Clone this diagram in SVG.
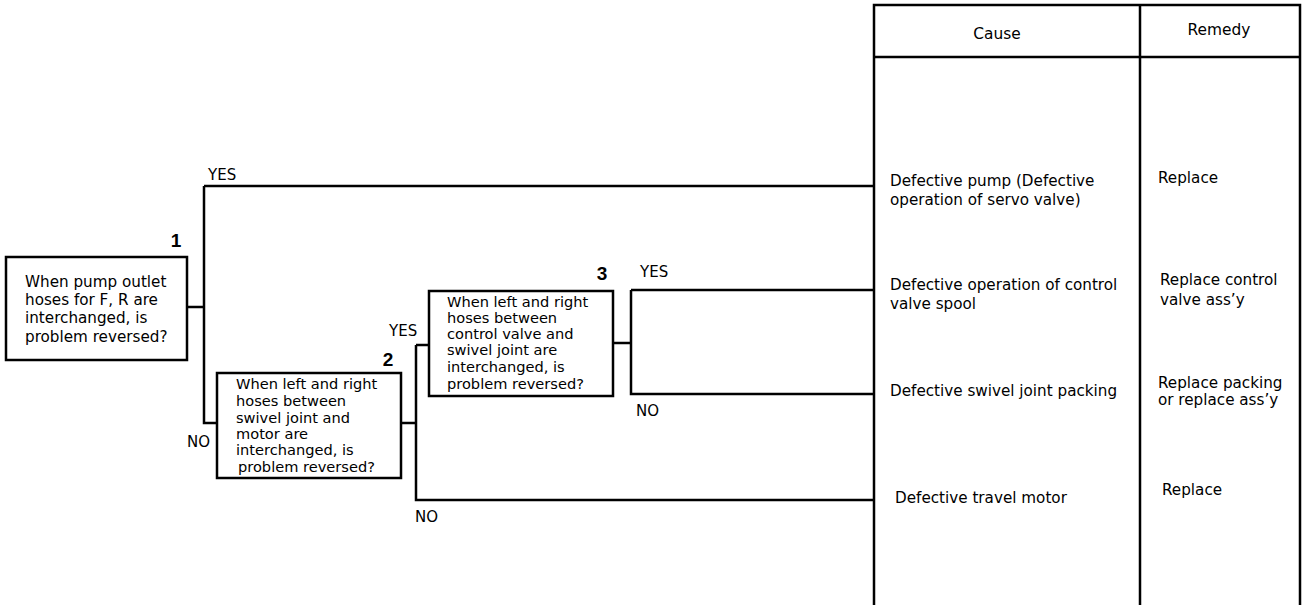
<svg xmlns="http://www.w3.org/2000/svg" width="1308" height="605" viewBox="0 0 1308 605">
<style>
.box{fill:#fff;stroke:#000;stroke-width:2.5}
.ln{fill:none;stroke:#000;stroke-width:2.5}
.t{font-family:"DejaVu Sans","Liberation Sans",sans-serif;font-size:15.2px;fill:#000}
.s{font-family:"DejaVu Sans","Liberation Sans",sans-serif;font-size:14.6px;fill:#000}
.lbl{font-family:"DejaVu Sans","Liberation Sans",sans-serif;font-size:15px;fill:#000}
.num{font-family:"Liberation Sans Narrow","Liberation Sans",sans-serif;font-weight:bold;font-size:19px;fill:#000;text-anchor:middle}
.h{font-family:"DejaVu Sans","Liberation Sans",sans-serif;font-size:15.4px;fill:#000;text-anchor:middle}
</style>
<rect width="1308" height="605" fill="#fff"/>
<g id="connectors">
<path class="ln" d="M187 307 H204 M204 186 V423 H217 M204 186 H874"/>
<path class="ln" d="M401 423 H416 M416 345 V500 H874 M416 345 H429"/>
<path class="ln" d="M613 343 H631 M631 290 V394 H874 M631 290 H874"/>
<text class="lbl" x="208" y="180">YES</text>
<text class="lbl" x="187" y="447">NO</text>
<text class="lbl" x="389" y="336">YES</text>
<text class="lbl" x="415" y="522">NO</text>
<text class="lbl" x="640" y="277">YES</text>
<text class="lbl" x="636" y="416">NO</text>
</g>
<g id="q1">
<rect class="box" x="6" y="257" width="181" height="103"/>
<text class="num" x="176" y="247">1</text>
<text class="t" x="25" y="287">When pump outlet</text>
<text class="t" x="25" y="305">hoses for F, R are</text>
<text class="t" x="25" y="323">interchanged, is</text>
<text class="t" x="25" y="342">problem reversed?</text>
</g>
<g id="q2">
<rect class="box" x="217" y="373" width="184" height="105"/>
<text class="num" x="388" y="366">2</text>
<text class="s" x="236" y="389">When left and right</text>
<text class="s" x="236" y="406">hoses between</text>
<text class="s" x="236" y="423">swivel joint and</text>
<text class="s" x="236" y="439">motor are</text>
<text class="s" x="236" y="455">interchanged, is</text>
<text class="s" x="238" y="472">problem reversed?</text>
</g>
<g id="q3">
<rect class="box" x="429" y="291" width="184" height="105"/>
<text class="num" x="602" y="280">3</text>
<text class="s" x="447" y="307">When left and right</text>
<text class="s" x="447" y="323">hoses between</text>
<text class="s" x="447" y="339">control valve and</text>
<text class="s" x="447" y="355">swivel joint are</text>
<text class="s" x="447" y="372">interchanged, is</text>
<text class="s" x="447" y="389">problem reversed?</text>
</g>
<g id="table">
<path class="ln" d="M874 607 V5 H1300 V607 M874 57 H1300 M1140 5 V607"/>
<text class="h" x="997" y="39">Cause</text>
<text class="h" x="1219" y="35">Remedy</text>
</g>
<g id="r1">
<text class="t" x="890" y="186">Defective pump (Defective</text>
<text class="t" x="890" y="205">operation of servo valve)</text>
<text class="t" x="1158" y="183">Replace</text>
</g>
<g id="r2">
<text class="t" x="890" y="290">Defective operation of control</text>
<text class="t" x="890" y="309">valve spool</text>
<text class="t" x="1160" y="285">Replace control</text>
<text class="t" x="1160" y="305">valve ass’y</text>
</g>
<g id="r3">
<text class="t" x="890" y="396">Defective swivel joint packing</text>
<text class="t" x="1158" y="388">Replace packing</text>
<text class="t" x="1158" y="405">or replace ass’y</text>
</g>
<g id="r4">
<text class="t" x="895" y="503">Defective travel motor</text>
<text class="t" x="1162" y="495">Replace</text>
</g>
</svg>
